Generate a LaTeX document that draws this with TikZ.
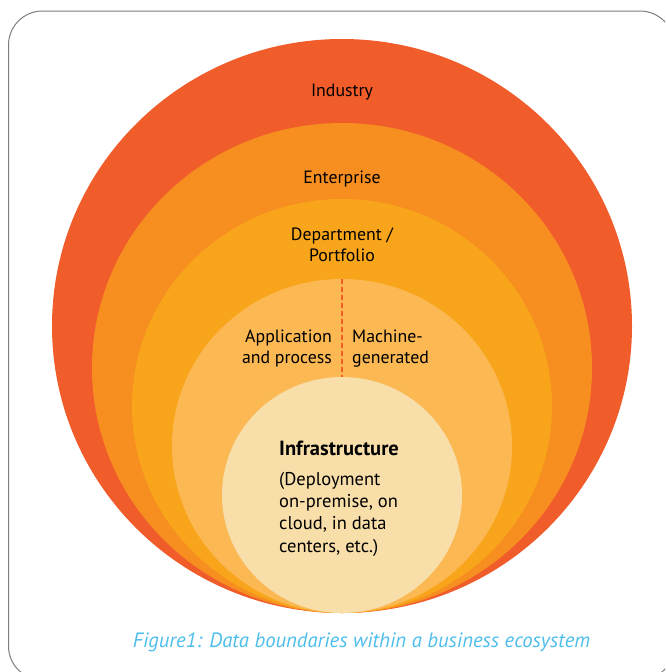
\documentclass[tikz,border=0pt]{standalone}
\usepackage{fontspec}
\setmainfont{PT Sans}
\usepackage{tikz}
\usetikzlibrary{shapes.geometric,positioning}
\definecolor{myindustry}{RGB}{241,92,43}
\definecolor{myenterprise}{RGB}{246,142,32}
\definecolor{mydepartment}{RGB}{249,165,27}
\definecolor{myapplication}{RGB}{251,184,83}
\definecolor{myinfra}{RGB}{248,222,169}
\definecolor{mycaption}{RGB}{77,190,235}
\definecolor{myborder}{RGB}{125,125,125}
\tikzstyle{ring}=[ellipse,inner sep=0pt,outer sep=0pt]

\begin{document}
\begin{tikzpicture}[
  x=1pt, y=-1pt,
  ringtext/.style={font=\fontsize{17.8}{21.5}\selectfont,inner sep=0pt},
  infratext/.style={font=\fontsize{18.5}{22.2}\selectfont,inner sep=0pt,align=left},
  splitline/.style={myindustry,line width=2pt,dash pattern=on 5pt off 3pt}
]
\clip (0,0) rectangle (665,672);
\draw[myborder, line width=1pt, rounded corners=34pt] (8.5,11) rectangle (674,680);

% nested boundaries
\node[ring, fill=myindustry, minimum width=580pt, minimum height=574pt] (ind) at (342,326) {};
\node[ring, fill=myenterprise, minimum width=500pt, minimum height=490pt] (ent) at (342,368) {};
\node[ring, fill=mydepartment, minimum width=420pt, minimum height=414pt] (dep) at (342,406) {};
\node[ring, fill=myapplication, minimum width=340pt, minimum height=334pt] (app) at (342,446) {};
\node[ring, fill=myinfra, minimum width=240pt, minimum height=236pt] (infra) at (342,495) {};

\draw[splitline] (app.north) -- (infra.north);

% labels (multi-line nodes sit on their last line)
\node[ringtext, anchor=base] (tind) at (342,96) {Industry};
\node[ringtext, anchor=base] (tent) at (342,183) {Enterprise};
\node[ringtext, anchor=base, align=center] (tdep) at (342,261.6) {Department /\\Portfolio};
\node[ringtext, anchor=base east, align=right] (tapp) at (332,363.5) {Application\\and process};
\node[ringtext, anchor=base west, align=left] (tmach) at (352,363.5) {Machine-\\generated};
\node[ringtext, anchor=base west, font=\fontsize{20.5}{24}\selectfont\bfseries] (tinfra) at (279,455) {Infrastructure};
\node[infratext, anchor=base west] (tdeploy) at (279,552) {(Deployment\\on-premise, on\\cloud, in data\\centers, etc.)};

\node[anchor=base, inner sep=0pt, text=mycaption, font=\fontsize{20.7}{24}\selectfont\itshape] (caption) at (361.5,647) {Figure1: Data boundaries within a business ecosystem};
\end{tikzpicture}
\end{document}
